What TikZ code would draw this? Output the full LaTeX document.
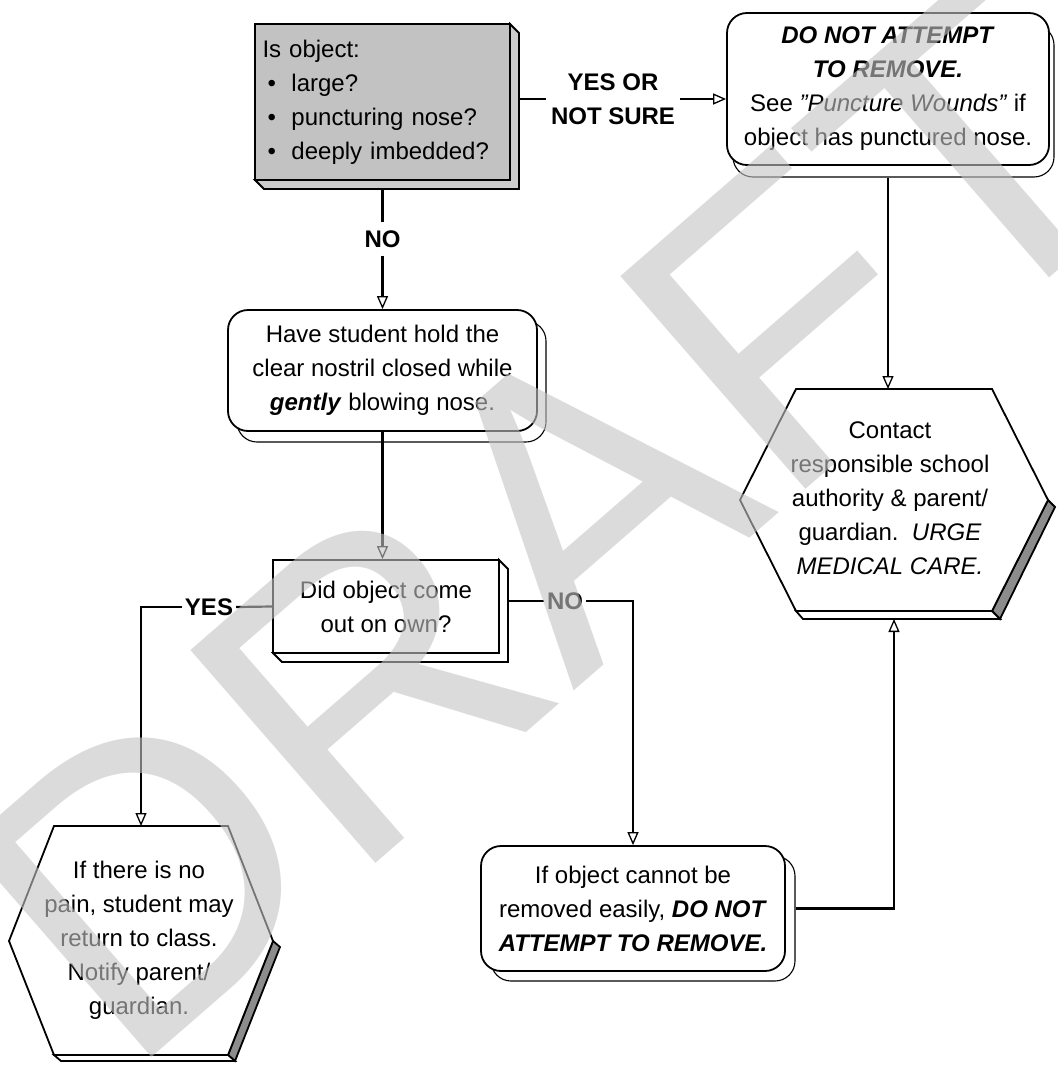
\documentclass[tikz,border=0pt]{standalone}
\usepackage{fontspec}
\setmainfont{Liberation Sans}
\usetikzlibrary{arrows.meta,calc}
\definecolor{speck}{gray}{0.76}
\definecolor{wm}{gray}{0.77}
\definecolor{bevelgray}{gray}{0.55}
\begin{document}
\begin{tikzpicture}[x=1pt,y=-1pt,
  txt/.style={font=\fontsize{24}{34}\selectfont, align=center, inner sep=0pt},
  face/.style={draw=black, line width=1.8pt, fill=white},
  rbox/.style={face, rounded corners=20pt},
  shadowline/.style={draw=black, line width=1.1pt},
  conn/.style={line width=2.2pt},
  arr/.style={conn, -{Triangle[open, length=13pt, width=11pt, line width=1.3pt]}},
  lbl/.style={font=\bfseries\fontsize{24}{34}\selectfont, align=center, inner xsep=3pt, inner ysep=8pt},
]
\useasboundingbox (0,0) rectangle (1057,1065);
\fill[white] (0,0) rectangle (1057,1065);

% ---- Box A (shaded 3D box)
\draw[face, fill=speck!85] (510,24) -- (519,33) -- (519,189) -- (264,189) -- (255,180) -- (510,180) -- cycle;
\node[face, fill=speck, minimum width=255pt, minimum height=156pt, txt, align=left, text width=240pt] (A) at (382.5,102)
  {Is object:\\
   \hspace*{5pt}\makebox[24pt][l]{\textbullet}large?\\
   \hspace*{5pt}\makebox[24pt][l]{\textbullet}puncturing nose?\\
   \hspace*{5pt}\makebox[24pt][l]{\textbullet}deeply imbedded?};

% ---- Box B (rounded, with shadow)
\draw[shadowline, rounded corners=20pt] (733,25) rectangle (1054,177);
\node[rbox, minimum width=322pt, minimum height=152pt, txt] (B) at (888,89)
  {\textbf{\textit{DO NOT ATTEMPT}}\\
   \textbf{\textit{TO REMOVE.}}\\
   See \textit{\char"22 Puncture Wounds\char"22} if\\
   object has punctured nose.};

% ---- Box C
\draw[shadowline, rounded corners=20pt] (237,321) rectangle (546,442);
\node[rbox, minimum width=309pt, minimum height=121pt, txt] (C) at (382.5,370.5)
  {Have student hold the\\
   clear nostril closed while\\
   \textbf{\textit{gently}} blowing nose.};

% ---- Did box (3D)
\draw[face] (499,560) -- (508,569) -- (508,662) -- (282,662) -- (273,653) -- (499,653) -- cycle;
\node[face, minimum width=226pt, minimum height=93pt, txt] (Did) at (386,606.5)
  {Did object come\\out on own?};

% ---- Bottom box
\draw[shadowline, rounded corners=20pt] (491,856) rectangle (795,981);
\node[rbox, minimum width=304pt, minimum height=125pt, txt] (bot) at (633,908.5)
  {If object cannot be\\
   removed easily, \textbf{\textit{DO NOT}}\\
   \textbf{\textit{ATTEMPT TO REMOVE.}}};

% ---- Right hexagon
\draw[face, fill=bevelgray] (1048,500) -- (992,611) -- (1000,619) -- (1055,507) -- cycle;
\draw[face] (992,611) -- (796,611) -- (803,619) -- (1000,619) -- cycle;
\draw[face] (796,389) -- (992,389) -- (1048,500) -- (992,611) -- (796,611) -- (740,500) -- cycle;
\node[txt] (hexR) at (890,498)
  {Contact\\
   responsible school\\
   authority \& parent/\\
   guardian.\ \ \textit{URGE}\\
   \textit{MEDICAL CARE.}};
\coordinate (hexRtop) at (888,389);
\coordinate (hexRbot) at (894,619);

% ---- Left hexagon
\draw[face, fill=bevelgray] (273,941) -- (228,1055) -- (235,1061) -- (280,947) -- cycle;
\draw[face] (228,1055) -- (54,1055) -- (61,1061) -- (235,1061) -- cycle;
\draw[face] (54,826) -- (228,826) -- (273,941) -- (228,1055) -- (54,1055) -- (9,941) -- cycle;
\node[txt] (hexL) at (139,940)
  {If there is no\\
   pain, student may\\
   return to class.\\
   Notify parent/\\
   guardian.};
\coordinate (hexLtop) at (141,826);

% ---- Connectors and labels
\node[lbl, inner xsep=5pt] (yesor) at (613,99) {YES OR\\NOT SURE};
\draw[conn] ([xshift=9pt]A.east |- yesor) -- (yesor.west);
\draw[arr] (yesor.east) -- (B.west |- yesor);

\node[lbl] (no1) at (382.5,239) {NO};
\draw[conn] ([yshift=-9pt]A.south) -- (no1.north);
\draw[arr] (no1.south) -- (C.north);

\draw[arr] (C.south) -- (C.south |- Did.north);

\node[lbl] (yes) at (209,607) {YES};
\draw[conn] (Did.west) -- (yes.east);
\draw[arr] (yes.west) -| (hexLtop);

\node[lbl] (no2) at (565,601) {NO};
\draw[conn] ([xshift=9pt]Did.east |- no2) -- (no2.west);
\draw[arr] (no2.east) -| (bot.north);

\draw[arr] ([yshift=-12pt]B.south) -- (hexRtop);
\draw[arr] ([xshift=10pt]bot.east) -| (hexRbot);

% ---- DRAFT watermark (overlay)
\node[font=\fontsize{410}{410}\selectfont, text=wm, text opacity=0.6, rotate=41, inner sep=0pt] (wmark) at (550,525) {DRAFT};
\end{tikzpicture}
\end{document}
